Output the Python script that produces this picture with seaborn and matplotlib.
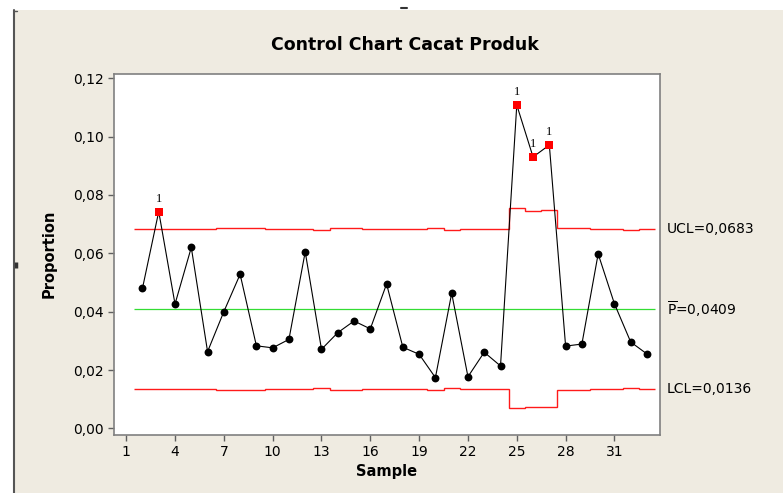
"""
P chart of product defects (Control Chart Cacat Produk), Minitab style.
"""

import numpy as np
import pandas as pd
import matplotlib

matplotlib.use("Agg")
import matplotlib.pyplot as plt
import matplotlib.transforms as mtransforms
from matplotlib.patches import Rectangle
from matplotlib.lines import Line2D
import seaborn as sns

# data (sample 1 has no value)
SAMPLES = list(range(2, 34))
PROPORTION = [
    0.0480, 0.0743, 0.0426, 0.0620, 0.0263, 0.0400, 0.0528, 0.0283,
    0.0276, 0.0305, 0.0605, 0.0271, 0.0328, 0.0368, 0.0341, 0.0495,
    0.0278, 0.0254, 0.0174, 0.0463, 0.0177, 0.0261, 0.0214, 0.1108,
    0.0930, 0.0971, 0.0282, 0.0289, 0.0598, 0.0427, 0.0296, 0.0255,
]
UCL = [
    0.0684, 0.0684, 0.0684, 0.0684, 0.0683, 0.0685, 0.0687, 0.0685,
    0.0683, 0.0684, 0.0684, 0.0680, 0.0687, 0.0685, 0.0683, 0.0684,
    0.0683, 0.0682, 0.0685, 0.0680, 0.0684, 0.0684, 0.0682, 0.0754,
    0.0746, 0.0748, 0.0685, 0.0687, 0.0682, 0.0682, 0.0680, 0.0682,
]
LCL = [
    0.0134, 0.0134, 0.0134, 0.0134, 0.0135, 0.0133, 0.0131, 0.0133,
    0.0135, 0.0134, 0.0134, 0.0138, 0.0131, 0.0133, 0.0135, 0.0134,
    0.0135, 0.0136, 0.0133, 0.0138, 0.0134, 0.0134, 0.0136, 0.0069,
    0.0073, 0.0073, 0.0133, 0.0131, 0.0136, 0.0136, 0.0138, 0.0136,
]
P_BAR = 0.0409
UCL_LABEL = 0.0683
LCL_LABEL = 0.0136
X_TICKS = [1, 4, 7, 10, 13, 16, 19, 22, 25, 28, 31]
Y_TICKS = [0.00, 0.02, 0.04, 0.06, 0.08, 0.10, 0.12]

BG = "#efebe1"


def comma(v, _=None):
    return f"{v:.2f}".replace(".", ",")


df = pd.DataFrame({"Sample": SAMPLES, "Proportion": PROPORTION, "UCL": UCL, "LCL": LCL})
df["Flag"] = df["Proportion"] > df["UCL"]

sns.set_theme(style="ticks")
plt.rcParams["font.family"] = ["DejaVu Sans"]
plt.rcParams["text.color"] = "black"
plt.rcParams["axes.labelcolor"] = "black"

fig = plt.figure(figsize=(7.83, 4.93), dpi=100, facecolor=BG)
ax = fig.add_axes([113.5 / 783, 1 - 435 / 493, (660 - 113.5) / 783, (435 - 73.5) / 493])
ax.set_facecolor("white")

# screenshot frame bits
fig.add_artist(Rectangle((0, 1 - 10 / 493), 1, 10 / 493, transform=fig.transFigure,
                         facecolor="white", edgecolor="none", zorder=0))
fig.add_artist(Rectangle((0, 0), 12.5 / 783, 1, transform=fig.transFigure,
                         facecolor="white", edgecolor="none", zorder=0))
fig.add_artist(Line2D([13.5 / 783, 13.5 / 783], [0, 1 - 10 / 493], transform=fig.transFigure,
                      color="#555555", lw=1.5))
fig.add_artist(Line2D([13.5 / 783, 17 / 783], [1 - 10.5 / 493, 1 - 10.5 / 493],
                      transform=fig.transFigure, color="#555555", lw=1.0))
fig.add_artist(Line2D([15.5 / 783, 15.5 / 783], [1 - 262 / 493, 1 - 268 / 493],
                      transform=fig.transFigure, color="#333333", lw=2.5,
                      solid_capstyle="butt"))
fig.add_artist(Line2D([401 / 783, 407 / 783], [1 - 8 / 493, 1 - 8 / 493],
                      transform=fig.transFigure, color="#333333", lw=1.5))

# control limits
edges = np.append(df["Sample"].values - 0.5, df["Sample"].values[-1] + 0.5)
ax.stairs(df["UCL"], edges, baseline=None, color="#ff1a1a", lw=1.0)
ax.stairs(df["LCL"], edges, baseline=None, color="#ff1a1a", lw=1.0)
ax.hlines(P_BAR, edges[0], edges[-1], color="#33dd33", lw=0.9)

# data
sns.lineplot(data=df, x="Sample", y="Proportion", color="black", lw=0.8, ax=ax)
sns.scatterplot(data=df[~df["Flag"]], x="Sample", y="Proportion", color="black",
                marker="o", s=32, edgecolor="black", linewidth=0, ax=ax, zorder=3)
sns.scatterplot(data=df[df["Flag"]], x="Sample", y="Proportion", color="#ff0000",
                marker="s", s=34, edgecolor="#ff0000", linewidth=0, ax=ax, zorder=3)
for s, p in zip(df.loc[df["Flag"], "Sample"], df.loc[df["Flag"], "Proportion"]):
    ax.annotate("1", (s, p), xytext=(0, 5), textcoords="offset points", ha="center",
                va="bottom", fontsize=9, family="Liberation Serif", color="black")

ax.set_xlim(0.22, 33.8)
ax.set_ylim(-0.00226, 0.1216)
ax.set_xticks(X_TICKS)
ax.set_yticks(Y_TICKS)
ax.yaxis.set_major_formatter(plt.FuncFormatter(comma))
ax.tick_params(axis="both", length=4, width=1, color="#606060", labelsize=10,
               labelcolor="black", pad=3)
for sp in ax.spines.values():
    sp.set_color("#808080")
    sp.set_linewidth(1.2)

ax.set_xlabel("Sample", fontsize=10.5, fontweight="bold", labelpad=4)
ax.set_ylabel("Proportion", fontsize=10.5, fontweight="bold", labelpad=12)

# right side limit labels
trans = mtransforms.blended_transform_factory(ax.transAxes, ax.transData)
ax.text(1.013, UCL_LABEL, f"UCL={UCL_LABEL:.4f}".replace(".", ","), transform=trans,
        va="center", ha="left", fontsize=10)
ax.text(1.013, P_BAR, r"$\overline{\mathrm{P}}$" + f"={P_BAR:.4f}".replace(".", ","),
        transform=trans, va="center", ha="left", fontsize=10)
ax.text(1.013, LCL_LABEL, f"LCL={LCL_LABEL:.4f}".replace(".", ","), transform=trans,
        va="center", ha="left", fontsize=10)

fig.text(404.5 / 783, 1 - 45 / 493, "Control Chart Cacat Produk", ha="center", va="center",
         fontsize=12.5, fontweight="bold")

fig.savefig("out.png", dpi=100, facecolor=BG)
